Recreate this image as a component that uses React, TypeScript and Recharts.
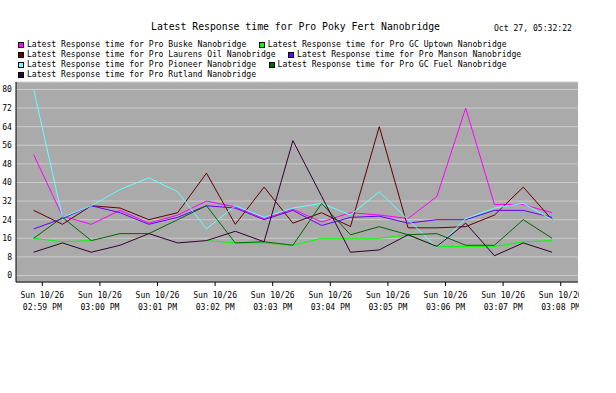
import { CartesianGrid, Line, LineChart, XAxis, YAxis } from "recharts";

const sampleTimes = [
  "14:58:51", "14:59:21", "14:59:51", "15:00:21", "15:00:51", "15:01:21", "15:01:51",
  "15:02:21", "15:02:51", "15:03:21", "15:03:51", "15:04:21", "15:04:51", "15:05:21",
  "15:05:51", "15:06:21", "15:06:51", "15:07:21", "15:07:51",
];

const buske = [52, 25.5, 22, 28, 22.5, 26, 32, 29.5, 24.5, 28.5, 23, 27, 26, 24.5, 34, 72, 30.5, 30.5, 27];
const gcUptown = [16, 14.5, 15, null, null, null, 15, 14, 14, 13, 16, 16, 16, 17.5, 12.5, 12.5, 12.5, 14.5, 15];
const laurensOil = [28, 22, 30, 29, 24, 27, 44, 22, 38, 22.5, 27, 21, 64, 20.5, 20.5, 21, 26, 38, 24];
const manson = [20, 24.5, 30, 27, 22, 25, 30, 29, 24, 28, 21.5, 25, 25.5, 22.5, 24, 24, 28, 28, 25];
const pioneer = [80, 25, 30, 37, 42, 36, 20, 30, 25, 29, 31, 26, 36, 24, 12, 24.5, 29, 31, 24];
const gcFuel = [16, 25, 15, 18, 18, 24, 30, 14, 14.5, 13, 31, 17.5, 21, 17.5, 18, 13, 13, 24, 16];
const rutland = [10, 14, 10, 13, 18, 14, 15, 19, 14.5, 58, 34, 10, 11, 17.5, 12.5, 22.5, 8.5, 14, 10];

const series = [
  { name: "Latest Response time for Pro Buske Nanobridge", color: "#ff00ff", values: buske },
  { name: "Latest Response time for Pro GC Uptown Nanobridge", color: "#00ff00", values: gcUptown },
  { name: "Latest Response time for Pro Laurens Oil Nanobridge", color: "#660000", values: laurensOil },
  { name: "Latest Response time for Pro Manson Nanobridge", color: "#6600ff", values: manson },
  { name: "Latest Response time for Pro Pioneer Nanobridge", color: "#66ffff", values: pioneer },
  { name: "Latest Response time for Pro GC Fuel Nanobridge", color: "#006600", values: gcFuel },
  { name: "Latest Response time for Pro Rutland Nanobridge", color: "#330033", values: rutland },
];

const tickTimes = ["14:59", "15:00", "15:01", "15:02", "15:03", "15:04", "15:05", "15:06", "15:07", "15:08"];
const tickDay = "Sun 10/26";
const yTicks = [0, 8, 16, 24, 32, 40, 48, 56, 64, 72, 80];

const BASE = 14 * 3600 + 59 * 60;
const toSec = (t: string) => {
  const [h, m, s] = t.split(":");
  return Number(h) * 3600 + Number(m) * 60 + Number(s || 0) - BASE;
};
const fmtClock = (sec: number) => {
  const total = sec + BASE;
  const h = Math.floor(total / 3600);
  const m = Math.round((total % 3600) / 60);
  const h12 = h % 12 === 0 ? 12 : h % 12;
  return `${String(h12).padStart(2, "0")}:${String(m).padStart(2, "0")} ${h >= 12 ? "PM" : "AM"}`;
};

const data = sampleTimes.map((t, i) => {
  const row: Record<string, number | null> = { t: toSec(t) };
  series.forEach((s, j) => {
    row["s" + j] = s.values[i];
  });
  return row;
});

const mono = "'DejaVu Sans Mono', monospace";
const small = 8.1;

function TimeTick(props: any) {
  const { x, y, payload } = props;
  return (
    <g transform={`translate(${x},${y})`}>
      <text x={0} y={9.5} textAnchor="middle" fontFamily={mono} fontSize={small} fill="#000">
        {tickDay}
      </text>
      <text x={0} y={21.5} textAnchor="middle" fontFamily={mono} fontSize={small} fill="#000">
        {fmtClock(payload.value)}
      </text>
    </g>
  );
}

export default function App() {
  return (
    <div style={{ position: "absolute", left: 0, top: 0, width: 616, height: 393, background: "#fff" }}>
      <div
        style={{
          position: "absolute", left: 0, top: 21, width: 591, textAlign: "center",
          fontFamily: mono, fontSize: 9.8, lineHeight: "12px", color: "#000",
        }}
      >
        Latest Response time for Pro Poky Fert Nanobridge
      </div>
      <div
        style={{
          position: "absolute", left: 494, top: 22, fontFamily: mono, fontSize: small,
          lineHeight: "12px", color: "#000", whiteSpace: "nowrap",
        }}
      >
        Oct 27, 05:32:22
      </div>
      <div
        style={{
          position: "absolute", left: 18, top: 39, width: 545, display: "flex", flexWrap: "wrap",
          columnGap: 12.5, rowGap: 0,
        }}
      >
        {series.map((s) => (
          <div key={s.name} style={{ display: "flex", alignItems: "center", height: 10 }}>
            <span
              style={{
                display: "inline-block", width: 6, height: 6, boxSizing: "border-box",
                background: s.color, border: "1px solid #000", marginRight: 3, marginTop: 2,
              }}
            />
            <span style={{ fontFamily: mono, fontSize: small, lineHeight: "10px", whiteSpace: "nowrap", color: "#000" }}>
              {s.name}
            </span>
          </div>
        ))}
      </div>
      <div style={{ position: "absolute", left: 0, top: 0, width: 579, height: 393, overflow: "hidden" }}>
        <LineChart width={616} height={393} data={data} margin={{ top: 82, right: 38, bottom: 81, left: 0 }}>
          <CartesianGrid vertical={false} fill="#aaaaaa" fillOpacity={1} stroke="#cccccc" strokeWidth={1} />
          <XAxis
            dataKey="t"
            type="number"
            domain={[-27.4, 558]}
            allowDataOverflow
            ticks={tickTimes.map(toSec)}
            interval={0}
            height={30}
            stroke="#000"
            tickSize={4}
            tick={<TimeTick />}
          />
          <XAxis
            xAxisId="top"
            orientation="top"
            dataKey="t"
            type="number"
            domain={[-27.4, 558]}
            allowDataOverflow
            height={0}
            tick={false}
            tickLine={false}
            stroke="#000"
          />
          <YAxis
            type="number"
            domain={[-2.8, 83.2]}
            allowDataOverflow
            ticks={yTicks}
            interval={0}
            width={16}
            stroke="#000"
            tickLine={false}
            tickSize={0}
            tickMargin={4}
            tick={{ fontFamily: mono, fontSize: small, fill: "#000" }}
          />
          <YAxis
            yAxisId="right"
            orientation="right"
            type="number"
            domain={[-2.8, 83.2]}
            allowDataOverflow
            ticks={yTicks}
            interval={0}
            width={0}
            stroke="#000"
            tickSize={3}
            tick={() => <g />}
          />
          {series.map((s, j) => (
            <Line
              key={s.name}
              type="linear"
              dataKey={"s" + j}
              name={s.name}
              stroke={s.color}
              strokeWidth={1}
              dot={false}
              connectNulls={false}
              isAnimationActive={false}
            />
          ))}
        </LineChart>
      </div>
    </div>
  );
}
